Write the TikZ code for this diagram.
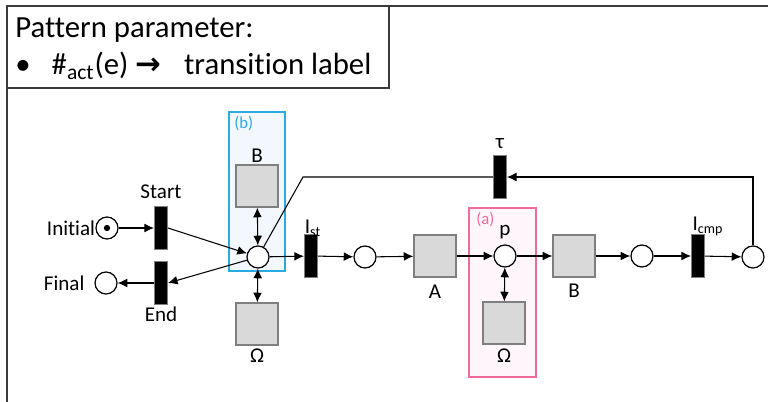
\documentclass[tikz,border=0pt]{standalone}
\usepackage{fontspec}
\setmainfont[Ligatures=NoCommon]{Carlito}
\newfontfamily\symfont{DejaVu Sans}
\usepackage{tikz}
\usetikzlibrary{positioning,arrows.meta}
\definecolor{framec}{HTML}{3B3B3B}
\definecolor{actc}{HTML}{D9D9D9}
\definecolor{actline}{HTML}{7F7F7F}
\definecolor{blueb}{HTML}{29ABE2}
\definecolor{bluefill}{HTML}{F2F8FD}
\definecolor{pinkb}{HTML}{F06A9B}
\definecolor{pinkfill}{HTML}{FFF6FB}
\tikzset{
  place/.style={circle,draw=black,fill=white,line width=0.7pt,minimum size=0.44cm,inner sep=0pt},
  trans/.style={rectangle,draw=actline,fill=black,line width=0.5pt,minimum width=0.26cm,minimum height=0.86cm,inner sep=0pt},
  act/.style={rectangle,draw=actline,fill=actc,line width=0.7pt,minimum size=0.84cm,inner sep=0pt},
  arc/.style={-{Latex[length=5.5pt,width=5pt]},line width=0.6pt},
  dblarc/.style={{Latex[length=5.5pt,width=5pt]}-{Latex[length=5.5pt,width=5pt]},line width=0.6pt},
  lbl/.style={font=\fontsize{12}{14}\selectfont,inner sep=0pt},
  tag/.style={font=\fontsize{9.5}{11}\selectfont,inner sep=0pt}
}

\begin{document}
\begin{tikzpicture}[x=0.02cm,y=-0.02cm]
  \useasboundingbox (0,0) rectangle (768,402);

  % frame and parameter box
  \draw[framec,line width=1.1pt] (768,6) -- (7,6) -- (7,402);
  \draw[framec,line width=0.6pt] (7,88) -- (389,88) -- (389,6);
  \node[anchor=west,font=\fontsize{17.5}{20}\selectfont,inner sep=0pt] (ptitle) at (15,30) {Pattern parameter:};
  \node[anchor=west,font=\fontsize{17.5}{20}\selectfont,inner sep=0pt] (pitem) at (15,66)
    {\textbullet\hspace{12pt}\#\textsubscript{act}(e)\hspace{4pt}{\symfont\bfseries →}\hspace{13pt}transition label};

  % highlighted regions
  \draw[blueb,fill=bluefill,line width=0.7pt] (229,112) rectangle (285,271);
  \node[tag,text=blueb,anchor=west] (tagb) at (234,124) {(b)};
  \draw[pinkb,fill=pinkfill,line width=0.7pt] (469,208) rectangle (536,377);
  \node[tag,text=pinkb,anchor=west] (taga) at (476,220) {(a)};

  % nodes
  \node[place] (ini) at (107,228) {};
  \fill (ini) circle (1.8pt);
  \node[place] (fin) at (106,283) {};
  \node[trans] (start) at (161,228) {};
  \node[trans] (end) at (161,283) {};
  \node[place] (c) at (258,257) {};
  \node[act] (bt) at (257,186) {};
  \node[act] (bo) at (257,324) {};
  \node[trans] (ist) at (311,256) {};
  \node[place] (p1) at (365,257) {};
  \node[act] (a) at (435,256) {};
  \node[place] (p) at (505,256) {};
  \node[act] (om) at (504,323) {};
  \node[act] (b) at (574,256) {};
  \node[place] (p3) at (642,256) {};
  \node[trans] (icmp) at (698,256) {};
  \node[place] (p4) at (753,257) {};
  \node[trans] (tau) at (500,177) {};
  \coordinate (bend) at (303,177);

  % labels
  \node[lbl,left=0pt of ini] (lini) {Initial};
  \node[lbl,left=5.5pt of fin] (lfin) {Final};
  \node[lbl] (lstart) at (161,192) {Start};
  \node[lbl] (lend) at (161,314) {End};
  \node[lbl] (lbt) at (257,156) {B};
  \node[lbl] (lbo) at (257,356) {Ω};
  \node[lbl] (list) at (313,228) {I\textsubscript{st}};
  \node[lbl] (la) at (435,292) {A};
  \node[lbl] (lp) at (505,232) {p};
  \node[lbl] (lom) at (504,356) {Ω};
  \node[lbl] (lb) at (574,291) {B};
  \node[lbl] (licmp) at (708,226) {I\textsubscript{cmp}};
  \node[lbl] (ltau) at (500,144) {τ};

  % arcs
  \draw[arc] (ini) -- (start);
  \draw[arc] (start.east) -- (c);
  \draw[arc] (c) -- (end.east);
  \draw[arc] (end) -- (fin);
  \draw[dblarc] (c) -- (bt);
  \draw[dblarc] (c) -- (bo);
  \draw[arc] (c) -- (ist);
  \draw[arc] (ist) -- (p1);
  \draw[arc] (p1) -- (a);
  \draw[arc] (a) -- (p);
  \draw[dblarc] (p) -- (om);
  \draw[arc] (p) -- (b);
  \draw[arc] (b) -- (p3);
  \draw[arc] (p3) -- (icmp);
  \draw[arc] (icmp) -- (p4);
  \draw[arc] (p4.north) |- (tau.east);
  \draw[line width=0.6pt] (tau.west) -- (bend) -- (c);
\end{tikzpicture}
\end{document}
